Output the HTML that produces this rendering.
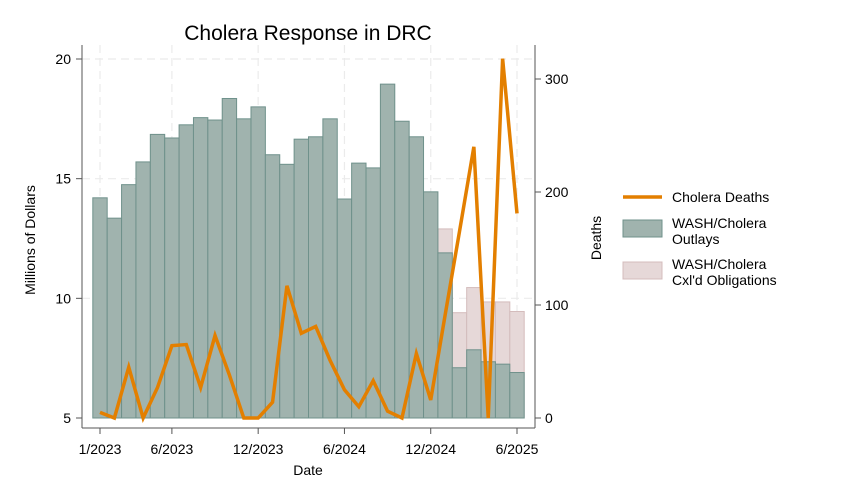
<!DOCTYPE html>
<html><head><meta charset="utf-8"><style>
body{margin:0;background:#fff;}
svg{display:block;font-family:"Liberation Sans",sans-serif;}
</style></head><body>
<svg id="chart" width="842" height="504">
<text x="308" y="40" font-size="21" text-anchor="middle">Cholera Response in DRC</text>
<g id="grid"></g><g id="bars"></g><g id="line"></g><g id="axes"></g>
<text transform="translate(35,240) rotate(-90)" font-size="14" text-anchor="middle">Millions of Dollars</text>
<text transform="translate(601,238) rotate(-90)" font-size="14" text-anchor="middle">Deaths</text>
<text x="308" y="475" font-size="14" text-anchor="middle">Date</text>
<g>
<line x1="623" y1="197" x2="662" y2="197" stroke="#e37f00" stroke-width="3.5"/>
<text x="672" y="202" font-size="14">Cholera Deaths</text>
<rect x="623" y="220" width="39" height="17" fill="#a0b3ae" stroke="#6f918b"/>
<text x="672" y="228" font-size="14"><tspan x="672">WASH/Cholera</tspan><tspan x="672" dy="16">Outlays</tspan></text>
<rect x="623" y="262" width="39" height="17" fill="#e6d8d8" stroke="#d4bcbc"/>
<text x="672" y="269" font-size="14"><tspan x="672">WASH/Cholera</tspan><tspan x="672" dy="16">Cxl'd Obligations</tspan></text>
</g>
</svg>
<script>
const outlays=[14.2,13.35,14.75,15.7,16.85,16.7,17.25,17.55,17.45,18.35,17.5,18.0,16.0,15.6,16.65,16.75,17.5,14.15,15.65,15.45,18.95,17.4,16.75,14.45,11.9,7.1,7.85,7.35,7.25,6.9];
const cxlTop=[null,null,null,null,null,null,null,null,null,null,null,null,null,null,null,null,null,null,null,null,null,null,null,null,12.9,9.4,10.45,9.85,9.85,9.45];
const deaths=[5,0,45,0,27,64,65,27,73,38,0,0,14,117,75,81,51,25,10,33,6,0,57,16,91,165,240,0,318,181];
const xTickIdx=[0,5,11,17,23,29];
const xTickLabels=["1/2023","6/2023","12/2023","6/2024","12/2024","6/2025"];
const yTicks=[5,10,15,20];
const y2Ticks=[0,100,200,300];
const ns="http://www.w3.org/2000/svg";
const X=i=>100+i*(417/29);
const Y=v=>418-(v-5)*(359/15);
const Y2=v=>418-v*(339/300);
function mk(tag,attrs,parent,text){const e=document.createElementNS(ns,tag);for(const k in attrs)e.setAttribute(k,attrs[k]);if(text!==undefined)e.textContent=text;document.getElementById(parent).appendChild(e);return e;}
const bw=14.38;
yTicks.forEach(v=>{if(v>5){const g=mk('line',{x1:82,x2:535,y1:Y(v),y2:Y(v),stroke:'#ebebeb','stroke-dasharray':'8,5','stroke-width':1.2},'grid');

}});
xTickIdx.forEach(i=>{const g=mk('line',{x1:X(i),x2:X(i),y1:45,y2:418,stroke:'#ebebeb','stroke-dasharray':'8,5','stroke-width':1.2},'grid');

});
cxlTop.forEach((v,i)=>{if(v==null)return;const r=mk('rect',{x:X(i)-bw/2,y:Y(v),width:bw,height:Y(5)-Y(v),fill:'#e6d8d8',stroke:'#d4bcbc','stroke-width':1},'bars');

});
outlays.forEach((v,i)=>{const r=mk('rect',{x:X(i)-bw/2,y:Y(v),width:bw,height:Y(5)-Y(v),fill:'#a0b3ae',stroke:'#6f918b','stroke-width':1},'bars');

});
const p=mk('polyline',{points:deaths.map((d,i)=>X(i)+','+Y2(d)).join(' '),fill:'none',stroke:'#e37f00','stroke-width':3.5,'stroke-linejoin':'miter'},'line');


const ax=[[82,45,82,428],[82,428,535,428],[535,45,535,428]];
ax.forEach(a=>{const l=mk('line',{x1:a[0],y1:a[1],x2:a[2],y2:a[3],stroke:'#555','stroke-width':1},'axes');

});
yTicks.forEach(v=>{mk('line',{x1:76,x2:82,y1:Y(v),y2:Y(v),stroke:'#555'},'axes');
const t=mk('text',{x:71,y:Y(v)+5,'font-size':14,'text-anchor':'end'},'axes',v);

});
y2Ticks.forEach(v=>{mk('line',{x1:535,x2:541,y1:Y2(v),y2:Y2(v),stroke:'#555'},'axes');
const t=mk('text',{x:545,y:Y2(v)+5,'font-size':14},'axes',v);

});
xTickIdx.forEach((i,k)=>{mk('line',{x1:X(i),x2:X(i),y1:428,y2:434,stroke:'#555'},'axes');
const t=mk('text',{x:X(i),y:454,'font-size':14,'text-anchor':'middle'},'axes',xTickLabels[k]);

});
</script>
</body></html>
